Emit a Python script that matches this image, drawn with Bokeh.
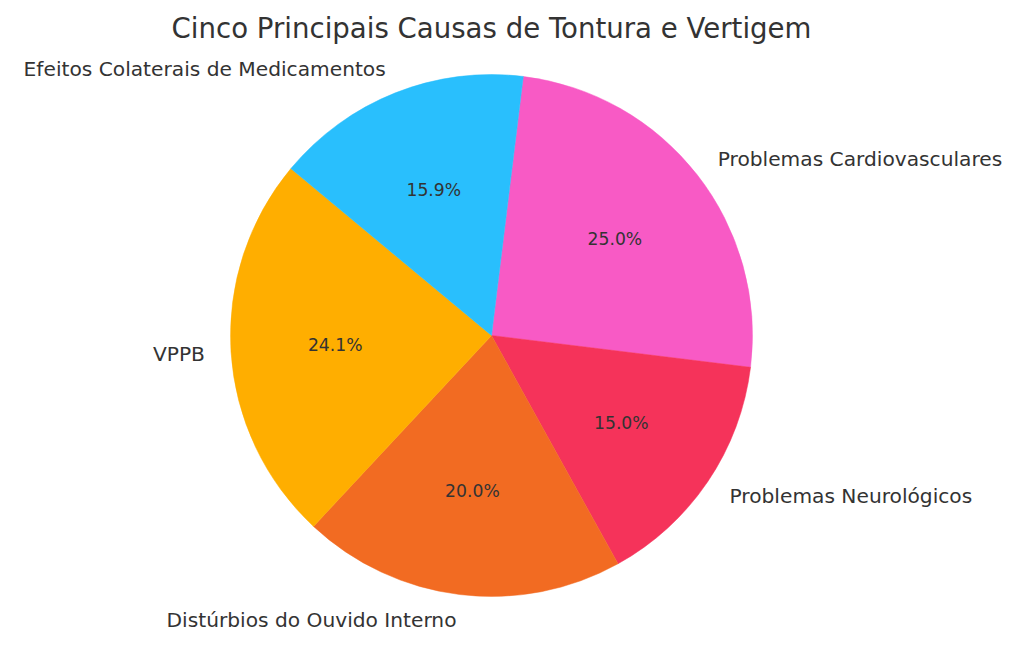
import numpy as np
from bokeh.plotting import figure
from bokeh.models import Range1d, ColumnDataSource
from bokeh.core.properties import value
from bokeh.embed import file_html
from bokeh.resources import INLINE

title = "Cinco Principais Causas de Tontura e Vertigem"
labels = ["Problemas Cardiovasculares", "Problemas Neurológicos",
          "Distúrbios do Ouvido Interno", "VPPB",
          "Efeitos Colaterais de Medicamentos"]
values = [25.0, 15.0, 20.0, 24.1, 15.9]
colors = ["#F85AC5", "#F5335A", "#F26B22", "#FFAE00", "#29BFFD"]
start_deg = 83.0

W, H = 1008, 631
p = figure(width=W, height=H, output_backend="svg", toolbar_location=None,
           x_range=Range1d(0, W), y_range=Range1d(0, H), min_border=0)
p.axis.visible = False
p.grid.visible = False
p.outline_line_color = None
p.background_fill_color = "white"
p.border_fill_color = "white"

cx, cy, r = 491, 296, 261
vals = np.array(values)
frac = vals / vals.sum()
cum = np.concatenate([[0], np.cumsum(frac)]) * 360.0
starts = start_deg - cum[:-1]
ends = start_deg - cum[1:]
mids = np.deg2rad((starts + ends) / 2)

src = ColumnDataSource(dict(start=starts, end=ends, color=colors))
p.wedge(x=cx, y=cy, radius=r, start_angle="start", end_angle="end",
        start_angle_units="deg", end_angle_units="deg", direction="clock",
        fill_color="color", line_color="color", line_width=0.5, source=src)

font = value("DejaVu Sans")
tc = "#333333"
lx = cx + 1.1 * r * np.cos(mids)
ly = cy + 1.1 * r * np.sin(mids)
align = ["left" if np.cos(m) > 0 else "right" for m in mids]
p.text(x=lx, y=ly, text=labels, text_align=align, text_baseline="middle",
       text_font=font, text_font_size="20.2px", text_color=tc)

px = cx + 0.6 * r * np.cos(mids)
py = cy + 0.6 * r * np.sin(mids)
pct = [f"{f*100:.1f}%" for f in frac]
p.text(x=px, y=py, text=pct, text_align="center", text_baseline="middle",
       text_font=font, text_font_size="17.2px", text_color=tc)

p.text(x=[cx], y=[603], text=[title], text_align="center", text_baseline="middle",
       text_font=font, text_font_size="27.6px", text_color=tc)

open("out.html", "w").write(file_html(p, INLINE))
